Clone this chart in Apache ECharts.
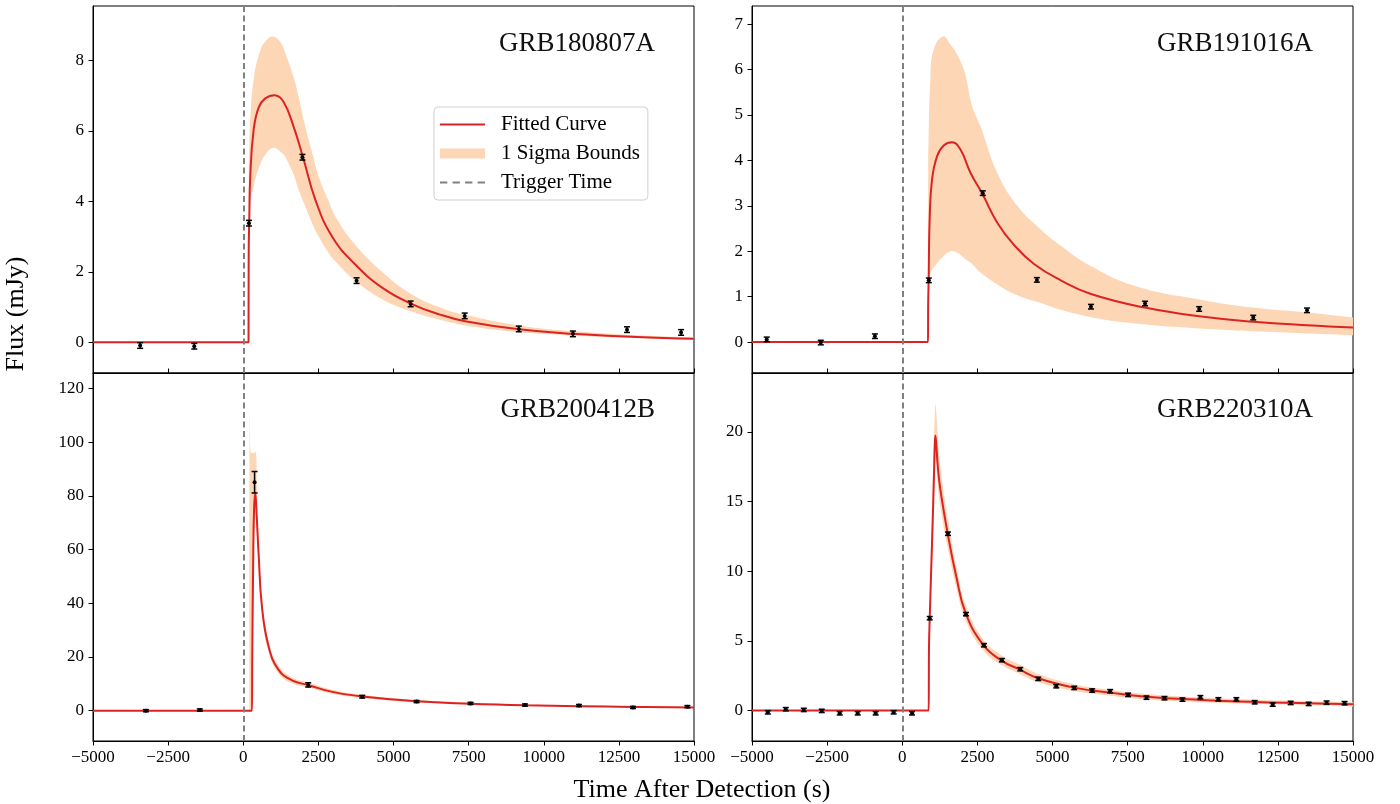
<!DOCTYPE html>
<html>
<head>
<meta charset="utf-8">
<script src="https://cdn.jsdelivr.net/npm/echarts@6/dist/echarts.min.js"></script>
<style>html,body{margin:0;padding:0;background:#fff}#c{width:1400px;height:804px}</style>
</head>
<body>
<div id="c"></div>
<script>
// ---------------- data ----------------
const TRIGGER = 0;
const xTicks = [-5000, -2500, 0, 2500, 5000, 7500, 10000, 12500, 15000];
const names = ['GRB180807A', 'GRB191016A', 'GRB200412B', 'GRB220310A'];

// GRB180807A
const t1 = [-3430, -1630, 190, 1970, 3770, 5570, 7370, 9170, 10970, 12770, 14570];
const f1 = [-0.09, -0.11, 3.38, 5.25, 1.75, 1.09, 0.75, 0.38, 0.24, 0.36, 0.28];
const e1 = [0.08, 0.08, 0.08, 0.08, 0.08, 0.08, 0.08, 0.08, 0.08, 0.08, 0.08];
const c1x = [-5000, 176, 182, 200, 233, 344, 511, 733, 1044, 1344, 1678, 1989, 2400, 2956, 3678, 4622, 5573, 6576, 7383, 9180, 10990, 13086, 15000];
const c1y = [0, 0, 2.6, 3.45, 4.7, 6.02, 6.66, 6.92, 7.01, 6.82, 6.11, 5.25, 4.04, 3.0, 2.25, 1.55, 1.1, 0.78, 0.6, 0.37, 0.24, 0.15, 0.1];
const b1x = [182, 200, 233, 344, 567, 800, 1011, 1250, 1400, 1678, 1844, 2067, 2289, 2511, 2844, 3067, 3678, 4622, 5573, 6576, 7383, 9180, 10990, 13086, 15000];
const b1lo = [2.6, 3.45, 3.9, 4.42, 5.05, 5.4, 5.52, 5.4, 5.26, 4.75, 4.32, 3.85, 3.38, 3.0, 2.53, 2.3, 1.78, 1.22, 0.88, 0.63, 0.48, 0.29, 0.19, 0.12, 0.07];
const b1hi = [5.0, 5.6, 6.3, 7.43, 8.28, 8.6, 8.67, 8.5, 8.2, 7.52, 6.95, 6.11, 5.4, 4.7, 4.0, 3.57, 2.82, 2.0, 1.38, 0.98, 0.78, 0.48, 0.32, 0.2, 0.14];

// GRB191016A
const t2 = [-4510, -2710, -910, 884, 2680, 4480, 6280, 8080, 9880, 11680, 13470];
const f2 = [0.06, -0.01, 0.13, 1.36, 3.28, 1.37, 0.78, 0.85, 0.73, 0.54, 0.70];
const e2 = [0.05, 0.05, 0.05, 0.05, 0.05, 0.05, 0.05, 0.05, 0.05, 0.05, 0.05];
const c2x = [-5000, 858, 862, 878, 912, 991, 1158, 1380, 1659, 1937, 2270, 2661, 3162, 3717, 4384, 5275, 6281, 8075, 9883, 11678, 13472, 15000];
const c2y = [0, 0, 0.8, 1.36, 2.70, 3.58, 4.09, 4.33, 4.40, 4.24, 3.73, 3.27, 2.63, 2.14, 1.72, 1.36, 1.06, 0.76, 0.57, 0.45, 0.37, 0.32];
const b2x = [862, 935, 1046, 1358, 1603, 1826, 2048, 2160, 2327, 2604, 3162, 3830, 4608, 5275, 6281, 7776, 9883, 11678, 13472, 15000];
const b2lo = [1.2, 1.5, 1.64, 1.88, 2.0, 1.97, 1.86, 1.8, 1.72, 1.53, 1.27, 1.03, 0.86, 0.71, 0.55, 0.41, 0.3, 0.24, 0.19, 0.15];
const b2hi = [4.0, 5.78, 6.44, 6.73, 6.55, 6.33, 6.0, 5.71, 5.19, 4.75, 3.73, 3.0, 2.48, 2.12, 1.67, 1.23, 0.94, 0.76, 0.65, 0.54];

// GRB200412B
const t3 = [-3240, -1445, 377, 2161, 3958, 5768, 7565, 9375, 11172, 12969, 14779];
const f3 = [0.0, 0.25, 85.1, 9.6, 5.2, 3.4, 2.7, 2.1, 1.9, 1.2, 1.5];
const e3 = [0.4, 0.4, 4.0, 0.8, 0.5, 0.4, 0.4, 0.4, 0.4, 0.4, 0.4];
const c3x = [-5000, 290, 300, 330, 360, 400, 450, 510, 622, 844, 1177, 1622, 2178, 2930, 3958, 5768, 7565, 9375, 11172, 12969, 15000];
const c3y = [0, 0, 20, 55, 75, 81, 72, 58.7, 38.8, 23.9, 15.2, 11.3, 9.5, 7.1, 5.3, 3.5, 2.6, 2.0, 1.65, 1.4, 1.2];
const b3x = [200, 218, 236, 260, 300, 330, 370, 422, 450, 510, 622, 844, 1177, 1622, 2178, 2930, 3958, 5768, 7565, 9375, 11172, 12969, 15000];
const b3lo = [0, 0, 0, 0, 10, 40, 68, 74, 66, 55, 36, 22, 13.8, 10.2, 8.6, 6.4, 4.75, 3.1, 2.3, 1.75, 1.42, 1.2, 1.0];
const b3hi = [60, 114.7, 98, 96, 96, 96, 96, 96.6, 85, 63, 42, 26, 16.8, 12.4, 10.5, 7.9, 5.9, 3.95, 2.95, 2.3, 1.92, 1.65, 1.45];

// GRB220310A
const t4 = [-4473, -3875, -3277, -2679, -2081, -1482, -884, -286, 325, 915, 1521, 2120, 2718, 3316, 3927, 4525, 5124, 5722, 6320, 6918, 7516, 8127, 8726, 9324, 9922, 10520, 11118, 11729, 12328, 12926, 13524, 14122, 14720];
const f4 = [-0.12, 0.10, 0.05, -0.02, -0.19, -0.19, -0.19, -0.12, -0.19, 6.63, 12.69, 6.92, 4.69, 3.62, 2.97, 2.28, 1.75, 1.63, 1.44, 1.39, 1.13, 0.93, 0.89, 0.79, 0.96, 0.81, 0.81, 0.60, 0.43, 0.55, 0.48, 0.57, 0.53];
const e4 = t4.map(() => 0.12);
const c4x = [-5000, 878, 890, 915, 1012, 1060, 1080, 1102, 1130, 1180, 1269, 1513, 1800, 2110, 2694, 3306, 3883, 4525, 5722, 6918, 8127, 9922, 11729, 13524, 15000];
const c4y = [0, 0, 4.5, 6.7, 13.5, 17.2, 18.9, 19.73, 19.2, 17.6, 15.85, 12.69, 9.6, 7.0, 4.72, 3.59, 2.97, 2.32, 1.65, 1.29, 1.0, 0.77, 0.62, 0.53, 0.45];
const b4x = [878, 890, 915, 1012, 1060, 1080, 1102, 1130, 1180, 1269, 1513, 1800, 2110, 2694, 3306, 3883, 4525, 5722, 6918, 8127, 9922, 11729, 13524, 15000];
const b4lo = [0, 3.6, 5.6, 12.0, 15.5, 17.2, 18.1, 17.8, 16.2, 14.6, 11.7, 8.85, 6.45, 4.33, 3.27, 2.67, 2.04, 1.41, 1.07, 0.8, 0.6, 0.47, 0.38, 0.3];
const b4hi = [0, 5.6, 8.0, 16.0, 19.8, 21.0, 22.0, 21.5, 19.8, 17.5, 13.8, 10.4, 7.6, 5.12, 3.96, 3.32, 2.63, 1.9, 1.5, 1.2, 0.96, 0.78, 0.68, 0.6];

// axis ranges and y tick labels
const yMin = [-0.87, -0.68, -11.3, -2.18];
const yMax = [9.54, 7.40, 125.8, 24.22];
const yTicks = [[0, 2, 4, 6, 8], [0, 1, 2, 3, 4, 5, 6, 7], [0, 20, 40, 60, 80, 100, 120], [0, 5, 10, 15, 20]];

// ---------------- style ----------------
const SERIF = "'Liberation Serif', 'DejaVu Serif', serif";
const RED = '#dc2323';
const BAND = '#fdd6b5';
const GREY = '#808080';
const SMOOTH = 0.45;
const gridPos = [
  {left: 93, top: 6, width: 601, height: 367},
  {left: 752, top: 6, width: 601, height: 367},
  {left: 93, top: 373, width: 601, height: 368},
  {left: 752, top: 373, width: 601, height: 368}
];

const panels = [
  {t: t1, f: f1, e: e1, cx: c1x, cy: c1y, bx: b1x, lo: b1lo, hi: b1hi},
  {t: t2, f: f2, e: e2, cx: c2x, cy: c2y, bx: b2x, lo: b2lo, hi: b2hi},
  {t: t3, f: f3, e: e3, cx: c3x, cy: c3y, bx: b3x, lo: b3lo, hi: b3hi},
  {t: t4, f: f4, e: e4, cx: c4x, cy: c4y, bx: b4x, lo: b4lo, hi: b4hi}
];

const minus = v => String(v).replace('-', '\u2212');

const grids = gridPos.map(g => Object.assign({show: true, borderColor: '#000', borderWidth: 1, containLabel: false}, g));
const xAxes = gridPos.map((g, i) => ({
  type: 'value', gridIndex: i, min: -5000, max: 15000, interval: 2500,
  axisLine: {show: true, onZero: false, lineStyle: {color: '#000', width: 1}},
  axisTick: {show: true, inside: i < 2, length: 4.5, lineStyle: {color: '#000', width: 1}, customValues: xTicks},
  axisLabel: {show: i >= 2, customValues: xTicks, formatter: minus, fontFamily: SERIF, fontSize: 17, color: '#000', margin: 8},
  splitLine: {show: false}
}));
const yAxes = gridPos.map((g, i) => ({
  type: 'value', gridIndex: i, min: yMin[i], max: yMax[i],
  axisLine: {show: true, onZero: false, lineStyle: {color: '#000', width: 1}},
  axisTick: {show: true, inside: false, length: 4.5, lineStyle: {color: '#000', width: 1}, customValues: yTicks[i]},
  axisLabel: {show: true, customValues: yTicks[i], formatter: minus, fontFamily: SERIF, fontSize: 17, color: '#000', margin: 9},
  splitLine: {show: false}
}));

const series = [];
panels.forEach((p, i) => {
  const rows = p.bx.map((x, k) => [x, p.lo[k], p.hi[k]]);
  series.push({
    type: 'custom', name: '1 Sigma Bounds', xAxisIndex: i, yAxisIndex: i, silent: true, z: 1, clip: true,
    itemStyle: {color: BAND},
    data: rows, encode: {x: 0, y: [1, 2]},
    renderItem: function (params, api) {
      if (params.dataIndex !== 0) return null;
      const up = [], dn = [];
      for (let k = 0; k < rows.length; k++) up.push(api.coord([rows[k][0], rows[k][2]]));
      for (let k = rows.length - 1; k >= 0; k--) dn.push(api.coord([rows[k][0], rows[k][1]]));
      // repeat the end vertices so the two ends of the band keep sharp, vertical edges
      const pts = [up[0]].concat(up, [up[up.length - 1]], [dn[0]], dn, [dn[dn.length - 1]]);
      return {type: 'polyline', shape: {points: pts, smooth: SMOOTH, smoothConstraint: false}, style: {fill: BAND, stroke: null}};
    }
  });
  series.push({
    type: 'line', name: 'Fitted Curve', xAxisIndex: i, yAxisIndex: i, silent: true, z: 2,
    data: p.cx.map((x, k) => [x, p.cy[k]]),
    showSymbol: false, symbol: 'none', smooth: SMOOTH,
    lineStyle: {color: RED, width: 2}, itemStyle: {color: RED}
  });
  series.push({
    type: 'custom', name: 'data', xAxisIndex: i, yAxisIndex: i, silent: true, z: 4,
    data: p.t.map((x, k) => [x, p.f[k], p.e[k]]),
    renderItem: function (params, api) {
      const x = api.value(0), y = api.value(1), e = api.value(2);
      const c = api.coord([x, y]);
      const top = api.coord([x, y + e]);
      const bot = api.coord([x, y - e]);
      const cw = 3;
      const st = {stroke: '#000', lineWidth: 1.5};
      return {type: 'group', children: [
        {type: 'line', shape: {x1: c[0], y1: top[1], x2: c[0], y2: bot[1]}, style: st},
        {type: 'line', shape: {x1: c[0] - cw, y1: top[1], x2: c[0] + cw, y2: top[1]}, style: st},
        {type: 'line', shape: {x1: c[0] - cw, y1: bot[1], x2: c[0] + cw, y2: bot[1]}, style: st},
        {type: 'circle', shape: {cx: c[0], cy: c[1], r: 2}, style: {fill: '#000'}}
      ]};
    }
  });
  series.push({
    type: 'line', name: 'Trigger Time', xAxisIndex: i, yAxisIndex: i, silent: true, z: 3,
    data: [], itemStyle: {color: GREY},
    markLine: {
      silent: true, symbol: ['none', 'none'], label: {show: false},
      lineStyle: {color: GREY, type: [6, 3.5], width: 2},
      emphasis: {disabled: true},
      data: [{xAxis: TRIGGER}]
    }
  });
});

const graphics = [
  {type: 'text', x: 16, y: 314, rotation: Math.PI / 2, style: {text: 'Flux (mJy)', textAlign: 'center', textVerticalAlign: 'middle', fontFamily: SERIF, fontSize: 26, fill: '#000'}},
  {type: 'text', x: 702, y: 790, style: {text: 'Time After Detection (s)', textAlign: 'center', textVerticalAlign: 'middle', fontFamily: SERIF, fontSize: 26, fill: '#000'}}
];
const titlePos = [[655, 44], [1313, 44], [655, 410], [1313, 410]];
names.forEach((n, i) => graphics.push({type: 'text', x: titlePos[i][0], y: titlePos[i][1], z: 10,
  style: {text: n, textAlign: 'right', textVerticalAlign: 'middle', fontFamily: SERIF, fontSize: 27, fill: '#111'}}));

const chart = echarts.init(document.getElementById('c'), null, {renderer: 'canvas'});
chart.setOption({
  animation: false,
  backgroundColor: '#fff',
  grid: grids,
  xAxis: xAxes,
  yAxis: yAxes,
  legend: {
    show: true, selectedMode: false, orient: 'vertical', left: 434, top: 107,
    padding: [7, 8, 7, 6], itemGap: 8, itemWidth: 45, itemHeight: 12,
    backgroundColor: '#fff', borderColor: '#d0d0d0', borderWidth: 1, borderRadius: 4,
    textStyle: {fontFamily: SERIF, fontSize: 21, color: '#000', padding: [0, 0, 0, 11]},
    data: [
      {name: 'Fitted Curve', icon: 'path://M0,0H45V2H0Z', itemStyle: {color: RED}},
      {name: '1 Sigma Bounds', icon: 'path://M0,0H45V10H0Z', itemStyle: {color: BAND}},
      {name: 'Trigger Time', icon: 'path://M0,0H7V2H0Z M12,0H19V2H12Z M24,0H31V2H24Z M36,0H43V2H36Z', itemStyle: {color: GREY}}
    ]
  },
  graphic: graphics,
  series: series
});
</script>
</body>
</html>
